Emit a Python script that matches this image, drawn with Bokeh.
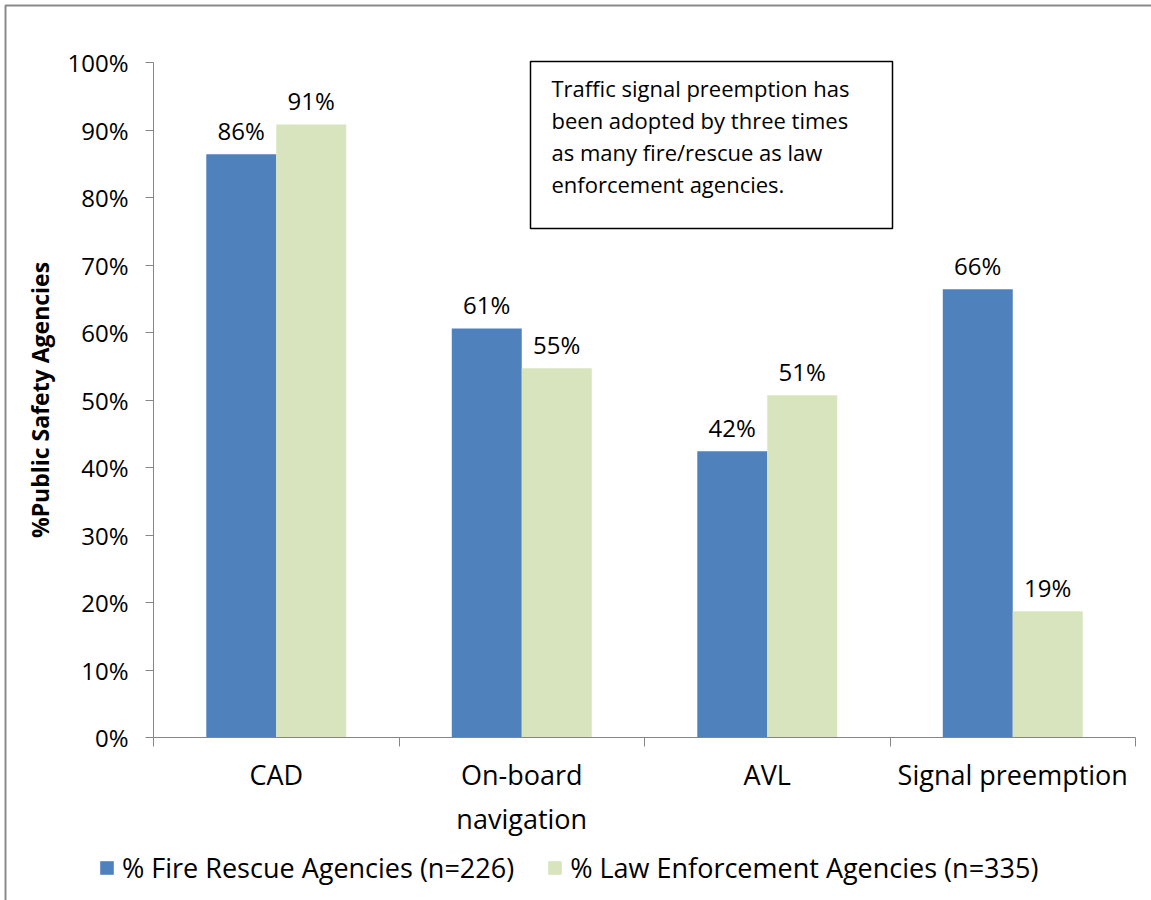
import numpy as np
from bokeh.plotting import figure
from bokeh.models import (ColumnDataSource, Range1d, LinearAxis, FixedTicker,
                          Legend, LegendItem, BoxAnnotation, Label)
from bokeh.transform import dodge
from bokeh.core.properties import value
from bokeh.embed import file_html
from bokeh.resources import INLINE

# ---------------- data ----------------
categories = ["CAD", "On-board\nnavigation", "AVL", "Signal preemption"]
fire_rescue = [86.4, 60.6, 42.4, 66.4]
law_enforcement = [90.8, 54.7, 50.7, 18.7]
series_names = ["% Fire Rescue Agencies (n=226)", "% Law Enforcement Agencies (n=335)"]
y_ticks = [0, 10, 20, 30, 40, 50, 60, 70, 80, 90, 100]
y_title = "%Public Safety Agencies"
note_lines = ["Traffic signal preemption has",
              "been adopted by three times",
              "as many fire/rescue as law",
              "enforcement agencies."]

# ---------------- style / layout ----------------
FONT = "Open Sans"
BLUE = "#4F81BD"
GREEN = "#D7E4BD"
AXIS = "#868686"
BAR_W = 0.285
W, H = 1151, 900
# plot area in canvas pixels
PLOT_L, PLOT_R, PLOT_T, PLOT_B = 153, 1135, 62, 737

n = len(categories)
centers = np.arange(n) + 0.5
px_per_x = (PLOT_R - PLOT_L) / n
px_per_y = (PLOT_B - PLOT_T) / (y_ticks[-1] - y_ticks[0])


def px_to_x(px):
    return (px - PLOT_L) / px_per_x


def px_to_y(py):
    return y_ticks[0] + (PLOT_B - py) / px_per_y


fire_lbl = [f"{round(v)}%" for v in fire_rescue]
law_lbl = [f"{round(v)}%" for v in law_enforcement]

src = ColumnDataSource(dict(x=centers, fire=fire_rescue, law=law_enforcement,
                            fire_lbl=fire_lbl, law_lbl=law_lbl))

p = figure(width=W, height=H, output_backend="svg", toolbar_location=None,
           x_range=Range1d(px_to_x(0), px_to_x(W)),
           y_range=Range1d(px_to_y(H), px_to_y(0)),
           x_axis_type=None, y_axis_type=None, min_border=0,
           background_fill_color="white", border_fill_color="white")
p.outline_line_color = None
p.grid.visible = False

# outer chart border
p.add_layout(BoxAnnotation(left=px_to_x(5), right=px_to_x(W + 50),
                           top=px_to_y(5), bottom=px_to_y(H + 50),
                           fill_alpha=0, line_color="#8a8a8a", line_width=2,
                           line_alpha=1.0))

# y axis
ya = LinearAxis(fixed_location=0, bounds=(y_ticks[0], y_ticks[-1]),
                ticker=FixedTicker(ticks=y_ticks),
                major_label_overrides={t: f"{t}%" for t in y_ticks},
                major_tick_out=8, major_tick_in=0,
                minor_tick_line_color=None,
                axis_line_color=AXIS, major_tick_line_color=AXIS,
                major_label_text_font=FONT, major_label_text_font_size="24px",
                major_label_text_color="black", major_label_standoff=17,
                axis_label=y_title, axis_label_text_font=FONT,
                axis_label_text_font_size="23px", axis_label_text_font_style="bold",
                axis_label_text_color="black", axis_label_standoff=8)
p.add_layout(ya, "left")

# x axis: boundary ticks
ax1 = LinearAxis(fixed_location=y_ticks[0], bounds=(0, n),
                 ticker=FixedTicker(ticks=list(range(n + 1))),
                 major_label_overrides={i: "" for i in range(n + 1)},
                 major_label_text_font_size="0px", major_label_standoff=0,
                 major_tick_out=9, major_tick_in=0,
                 minor_tick_line_color=None,
                 axis_line_color=AXIS, major_tick_line_color=AXIS)
p.add_layout(ax1, "below")

# x axis: category labels
ax2 = LinearAxis(fixed_location=y_ticks[0], bounds=(0, n),
                 ticker=FixedTicker(ticks=[float(c) for c in centers]),
                 major_label_overrides={float(c): cat for c, cat in zip(centers, categories)},
                 major_label_text_font=FONT, major_label_text_font_size="27px",
                 major_label_text_color="black", major_label_standoff=18,
                 major_tick_out=0, major_tick_in=0,
                 minor_tick_line_color=None, major_tick_line_color=None,
                 axis_line_color=None)
p.add_layout(ax2, "below")

# bars
r1 = p.vbar(x=dodge("x", -BAR_W / 2), top="fire", width=BAR_W, source=src,
            fill_color=BLUE, line_color=None)
r2 = p.vbar(x=dodge("x", BAR_W / 2), top="law", width=BAR_W, source=src,
            fill_color=GREEN, line_color=None)

# data labels
for col, lbl, off in (("fire", "fire_lbl", -BAR_W / 2), ("law", "law_lbl", BAR_W / 2)):
    p.text(x=dodge("x", off), y=col, text=lbl, source=src,
           text_align="center", text_baseline="alphabetic", y_offset=-24,
           text_font=value(FONT), text_font_size="24px", text_color="black")

# note box
p.add_layout(BoxAnnotation(left=px_to_x(530), right=px_to_x(892),
                           top=px_to_y(61), bottom=px_to_y(228),
                           fill_color="white", fill_alpha=1.0,
                           line_color="black", line_width=1.5, line_alpha=1.0))
for i, line in enumerate(note_lines):
    p.add_layout(Label(x=px_to_x(551), y=px_to_y(87 + 32 * i),
                       text=line, text_font=FONT, text_font_size="22px",
                       text_color="black", text_align="left",
                       text_baseline="alphabetic"))

# legend (bottom-left corner in canvas pixels from bottom-left)
legend = Legend(items=[LegendItem(label=series_names[0], renderers=[r1]),
                       LegendItem(label=series_names[1], renderers=[r2])],
                orientation="horizontal", location=(98, H - 886),
                label_text_font=FONT, label_text_font_size="27px",
                label_text_color="black",
                glyph_width=17, glyph_height=17, label_standoff=7, spacing=32,
                border_line_color=None, background_fill_alpha=0,
                margin=0, padding=5)
p.add_layout(legend, "center")

open("out.html", "w").write(file_html(p, INLINE))
